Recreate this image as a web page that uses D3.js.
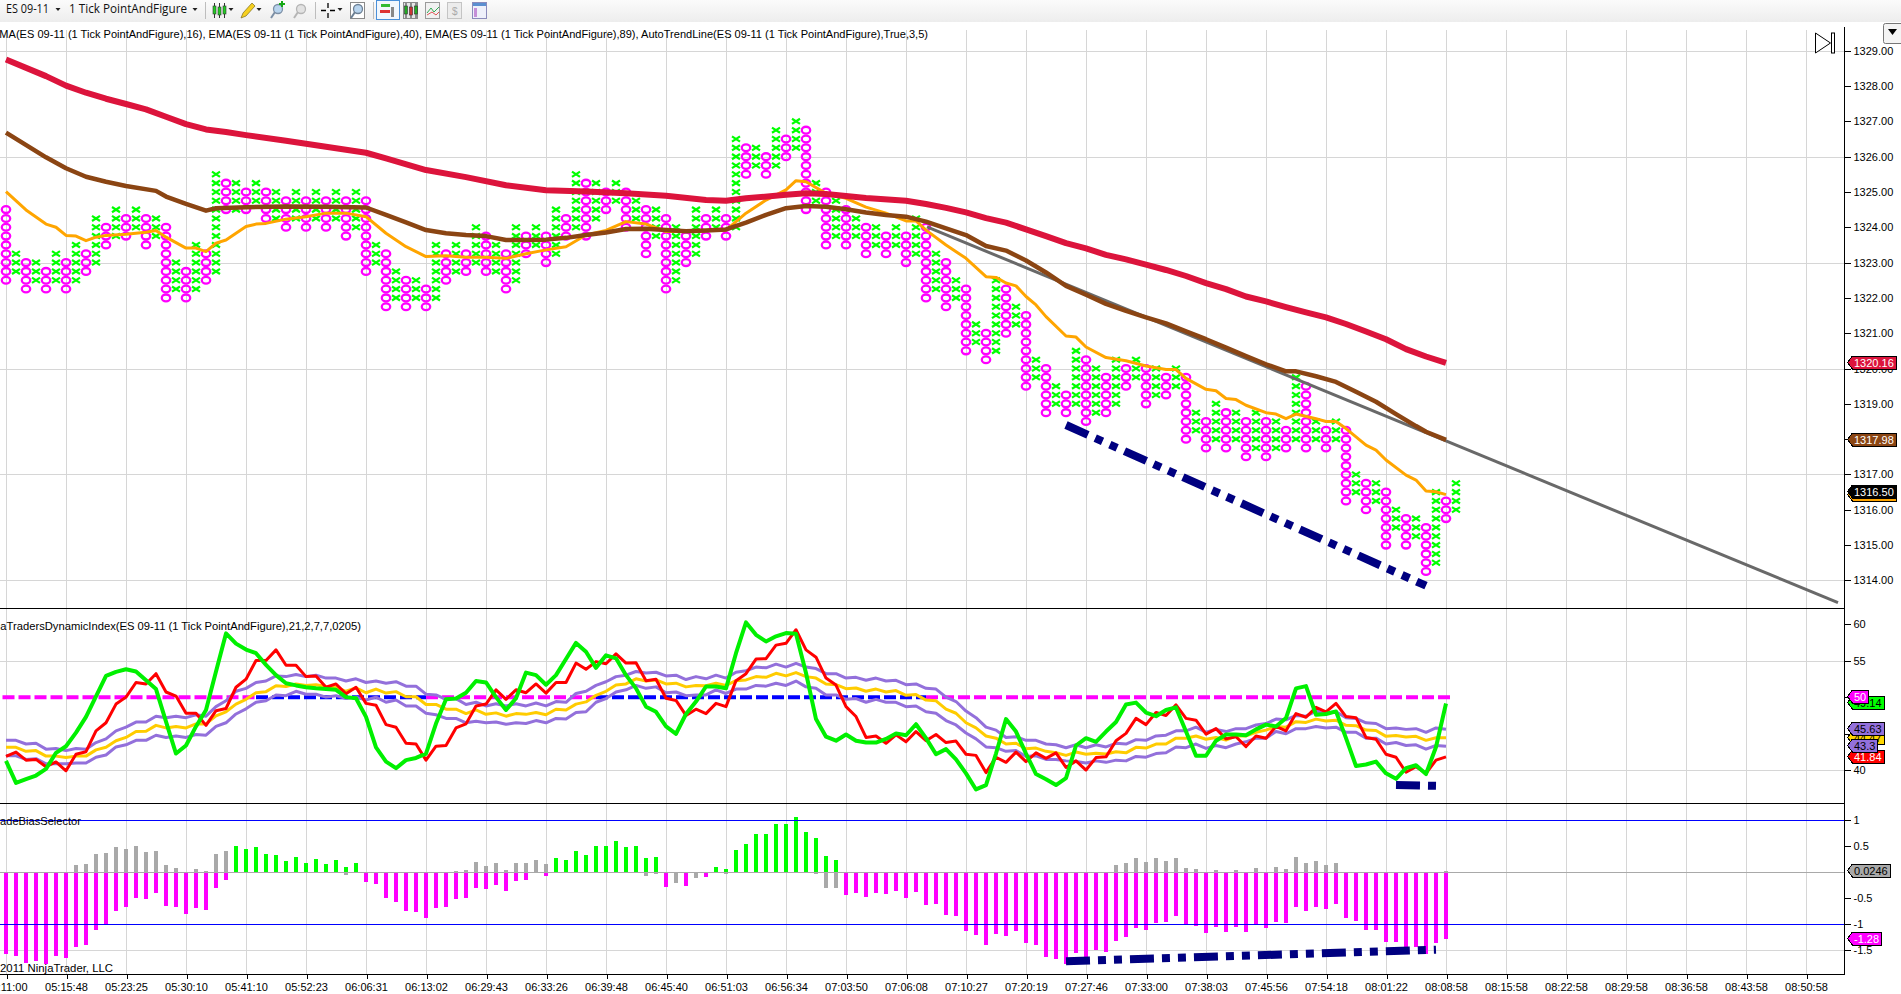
<!DOCTYPE html>
<html>
<head>
<meta charset="utf-8">
<title>ES 09-11 1 Tick PointAndFigure</title>
<script src="https://cdn.jsdelivr.net/npm/d3@7"></script>
<style>
    html, body { margin: 0; padding: 0; background: #fff; overflow: hidden; }
    svg { display: block; }
    text { font-family: "Liberation Sans", Arial, sans-serif; fill: #000; }
    .axis path { display: none; }
    .axis line { stroke: #000; shape-rendering: crispEdges; }
    .axis text { font-size: 11px; }
</style>
</head>
<body>
<div id="chart"></div>
<script>
'use strict';

// Time labels, one every 6 bars
var timeLabels = ["05:11:00", "05:15:48", "05:23:25", "05:30:10", "05:41:10", "05:52:23", "06:06:31", "06:13:02",
    "06:29:43", "06:33:26", "06:39:48", "06:45:40", "06:51:03", "06:56:34", "07:03:50", "07:06:08", "07:10:27",
    "07:20:19", "07:27:46", "07:33:00", "07:38:03", "07:45:56", "07:54:18", "08:01:22", "08:08:58", "08:15:58",
    "08:22:58", "08:29:58", "08:36:58", "08:43:58", "08:50:58"];
var barsPerLabel = 6;
var boxSize = 0.25;

var priceTicks = [1329, 1328, 1327, 1326, 1325, 1324, 1323, 1322, 1321, 1320, 1319, 1318, 1317, 1316, 1315, 1314];
var priceGrid = [1329, 1326, 1323, 1320, 1317, 1314];
var indexTicks = [60, 55, 50, 45, 40];
var indexGrid = [55, 40];
var biasTicks = [1, 0.5, -0.5, -1, -1.5];
var biasGrid = [-1.5];
var biasLimits = [1, -1];
var biasZero = 0.0246;

// Point and figure columns. Even columns are O, odd columns are X.
var pfTop = [1324.5, 1323.25, 1323, 1323, 1322.75, 1323.25, 1323, 1323.5, 1323.25, 1324.25,
    1324, 1324.5, 1324.25, 1324.5, 1324.25, 1324.25, 1324, 1323, 1322.75, 1323.5,
    1323.25, 1325.5, 1325.25, 1325.25, 1325, 1325.25, 1325, 1325, 1324.75, 1325,
    1324.75, 1325, 1324.75, 1325, 1324.75, 1325, 1324.75, 1323.5, 1323.25, 1322.75,
    1322.5, 1322.5, 1322.25, 1323.5, 1323.25, 1323.5, 1323.25, 1324, 1323.75, 1323.5,
    1323.25, 1324, 1323.75, 1324, 1323.75, 1324.5, 1324.25, 1325.5, 1325.25, 1325.25,
    1325, 1325.25, 1325, 1324.75, 1324.5, 1324.5, 1324.25, 1324, 1323.75, 1324.5,
    1324.25, 1324.5, 1324.25, 1326.5, 1326.25, 1326.25, 1326, 1326.75, 1326.5, 1327,
    1326.75, 1325.25, 1325, 1324.75, 1324.5, 1324.25, 1324, 1324, 1323.75, 1324,
    1323.75, 1324.25, 1324, 1323.25, 1323, 1322.5, 1322.25, 1321.25, 1321, 1322.5,
    1322.25, 1321.75, 1321.5, 1320.25, 1320, 1319.5, 1319.25, 1320.5, 1320.25, 1320,
    1319.75, 1320.25, 1320, 1320.25, 1320, 1320, 1319.75, 1320, 1319.75, 1318.75,
    1318.5, 1319, 1318.75, 1318.75, 1318.5, 1318.75, 1318.5, 1318.5, 1318.25, 1319.75,
    1319.5, 1318.5, 1318.25, 1318.5, 1318.25, 1317, 1316.75, 1316.75, 1316.5, 1316,
    1315.75, 1315.75, 1315.5, 1316.5, 1316.25, 1316.75];
var pfBottom = [1322.5, 1322.75, 1322.25, 1322.5, 1322.25, 1322.5, 1322.25, 1322.5, 1322.75, 1323,
    1323.5, 1323.75, 1323.75, 1324, 1323.5, 1323.75, 1322, 1322.25, 1322, 1322.25,
    1322.5, 1322.75, 1324.5, 1324.5, 1324.5, 1324.75, 1324.25, 1324.25, 1324, 1324.25,
    1324, 1324.25, 1324, 1324.25, 1323.75, 1324, 1322.75, 1323, 1321.75, 1322,
    1321.75, 1322, 1321.75, 1322, 1322.5, 1322.75, 1322.75, 1323, 1322.75, 1322.75,
    1322.25, 1322.5, 1323.25, 1323.5, 1323, 1323.25, 1323.75, 1324, 1323.75, 1324.25,
    1324.5, 1324.75, 1324, 1324.25, 1323.25, 1323.75, 1322.25, 1322.5, 1323, 1323.25,
    1323.75, 1324, 1323.75, 1324, 1325.5, 1325.75, 1325.5, 1325.75, 1326, 1326.25,
    1324.5, 1324.75, 1323.5, 1323.75, 1323.5, 1323.75, 1323.25, 1323.5, 1323.25, 1323.5,
    1323, 1323.25, 1322, 1322.25, 1321.75, 1322, 1320.5, 1320.75, 1320.25, 1320.5,
    1321, 1321.25, 1319.5, 1319.75, 1318.75, 1319, 1318.75, 1319, 1318.5, 1318.75,
    1318.75, 1319, 1319.5, 1319.75, 1319, 1319.25, 1319.25, 1319.5, 1318, 1318.25,
    1317.75, 1318, 1317.75, 1318, 1317.5, 1317.75, 1317.5, 1317.75, 1317.75, 1318,
    1317.75, 1318, 1317.75, 1318, 1316.25, 1316.5, 1316, 1316.25, 1315, 1315.5,
    1315, 1315.25, 1314.25, 1314.5, 1315.75, 1316];

// EMA 89
var ema89Bars = [0, 4, 6, 8, 10, 12, 14, 16, 18, 20, 22, 24, 28, 32, 36, 38, 42, 46, 50, 54, 58, 62, 66, 70, 72, 74, 78, 80,
    82, 86, 90, 92, 94, 96, 98, 100, 102, 104, 106, 108, 110, 112, 114, 116, 118, 120, 122, 124, 126, 128, 130, 132,
    134, 136, 138, 140, 142, 144];
var ema89Values = [1328.75, 1328.28, 1328.01, 1327.81, 1327.64, 1327.49, 1327.34, 1327.13, 1326.92, 1326.77, 1326.70,
    1326.61, 1326.45, 1326.28, 1326.11, 1325.95, 1325.62, 1325.42, 1325.19, 1325.05, 1325.01, 1324.96, 1324.89, 1324.77,
    1324.75, 1324.82, 1324.92, 1324.96, 1324.94, 1324.83, 1324.75, 1324.66, 1324.55, 1324.42, 1324.26, 1324.13, 1323.94,
    1323.75, 1323.55, 1323.40, 1323.22, 1323.09, 1322.94, 1322.79, 1322.62, 1322.42, 1322.25, 1322.04, 1321.90, 1321.74,
    1321.59, 1321.45, 1321.26, 1321.05, 1320.83, 1320.55, 1320.34, 1320.16];

// EMA 40
var ema40Bars = [0, 4, 6, 8, 10, 12, 15, 16, 18, 20, 21, 24, 28, 32, 36, 38, 40, 42, 44, 46, 48, 50, 52, 54, 56, 58, 60, 62,
    64, 66, 68, 70, 72, 74, 76, 78, 80, 82, 84, 86, 88, 90, 92, 94, 96, 98, 100, 102, 104, 106, 108, 110, 112, 114, 116,
    118, 120, 122, 124, 126, 128, 129, 131, 133, 135, 137, 139, 141, 142, 144];
var ema40Values = [1326.68, 1325.98, 1325.67, 1325.43, 1325.29, 1325.17, 1325.03, 1324.87, 1324.66, 1324.47, 1324.54,
    1324.57, 1324.59, 1324.58, 1324.56, 1324.35, 1324.14, 1323.92, 1323.83, 1323.78, 1323.75, 1323.64, 1323.64, 1323.65,
    1323.70, 1323.78, 1323.85, 1323.95, 1323.96, 1323.92, 1323.89, 1323.91, 1323.94, 1324.13, 1324.35, 1324.54, 1324.60,
    1324.58, 1324.51, 1324.42, 1324.35, 1324.30, 1324.16, 1323.97, 1323.78, 1323.47, 1323.34, 1323.06, 1322.72, 1322.34,
    1322.09, 1321.83, 1321.63, 1321.45, 1321.28, 1321.05, 1320.83, 1320.59, 1320.35, 1320.12, 1319.92, 1319.92, 1319.78,
    1319.62, 1319.34, 1319.06, 1318.71, 1318.37, 1318.21, 1317.98];

// EMA 16
var ema16Bars = [0, 2, 4, 5, 6, 7, 8, 9, 10, 12, 14, 15, 16, 18, 19, 20, 21, 22, 24, 25, 26, 28, 30, 32, 34, 36, 38, 40, 42,
    44, 46, 48, 50, 52, 54, 56, 58, 60, 62, 64, 66, 68, 70, 72, 74, 76, 78, 79, 80, 82, 84, 86, 88, 90, 91, 92, 94, 96,
    98, 99, 100, 101, 102, 103, 104, 106, 107, 108, 110, 112, 114, 116, 117, 118, 120, 121, 122, 123, 124, 126, 127,
    128, 129, 131, 132, 133, 134, 136, 137, 138, 140, 141, 142, 143, 144];
var ema16Values = [1325.01, 1324.49, 1324.09, 1324.0, 1323.77, 1323.75, 1323.62, 1323.72, 1323.77, 1323.80, 1323.86,
    1323.91, 1323.72, 1323.41, 1323.41, 1323.31, 1323.55, 1323.64, 1324.02, 1324.09, 1324.11, 1324.23, 1324.30, 1324.40,
    1324.40, 1324.30, 1323.83, 1323.45, 1323.17, 1323.19, 1323.15, 1323.15, 1323.12, 1323.25, 1323.36, 1323.45, 1323.78,
    1323.91, 1324.16, 1324.09, 1323.88, 1323.88, 1323.91, 1323.92, 1324.40, 1324.77, 1325.06, 1325.32, 1325.29, 1324.96,
    1324.82, 1324.57, 1324.40, 1324.18, 1324.18, 1323.92, 1323.50, 1323.12, 1322.60, 1322.58, 1322.42, 1322.34, 1322.04,
    1321.80, 1321.47, 1320.92, 1320.89, 1320.61, 1320.31, 1320.22, 1320.07, 1319.97, 1319.97, 1319.72, 1319.41, 1319.37,
    1319.15, 1319.12, 1318.96, 1318.75, 1318.71, 1318.58, 1318.71, 1318.58, 1318.5, 1318.5, 1318.30, 1317.83, 1317.69,
    1317.41, 1316.98, 1316.84, 1316.53, 1316.51, 1316.43];

// Auto trend line and the hand drawn divergence lines
var trendBars = [92.1, 183.2];
var trendValues = [1324.01, 1313.37];
var divergenceBars = [106, 142];
var divergenceValues = [1318.4, 1313.85];
var indexDivergenceBars = [139, 143];
var indexDivergenceValues = [38.0, 37.9];
var biasDivergenceBars = [106, 143];
var biasDivergenceValues = [-1.71, -1.49];

// Dynamic index, one value per bar
var rsiPrice = [41.9, 42.5, 41.4, 41.5, 40.5, 41.15, 39.95, 42.2, 42.55, 45.4, 46.5, 49.05, 50, 52, 51.8, 53.2, 50.7, 50.15,
    47.8, 47.8, 46.15, 48.15, 48.45, 51.35, 52.45, 55, 55, 56.45, 54.35, 54.35, 52.8, 52.9, 51.35, 51.8, 50.45, 51.35,
    49.15, 48.9, 46.25, 45.9, 43.7, 43.6, 41.4, 43.3, 43.4, 45.8, 46.35, 48.8, 49.05, 51,
    49.7, 51, 50.6, 51.8, 50.55, 52, 52, 54.65, 53.8, 54.85, 54.55, 55.9, 54.65, 54.7, 52.25, 52.45, 49.85, 49.55, 47.5,
    48.35, 47.75, 49.15, 48.7, 52.25, 53.2, 55.2, 55.25, 57.1, 57.35, 59.2, 56.45, 55.45, 52.6, 51.65, 48.7, 47.35, 44.5,
    44.7, 43.7, 44.85, 43.9, 45.3, 44.05, 44.9, 43.8, 44, 42.2, 42.05, 39.7,
    41.8, 41.1, 42.5, 41.2, 42.4, 41.65, 42.4, 40.4, 41.3, 40.05, 41.75, 41.85, 44.05, 45.05, 47.1, 46.25, 47.9, 47.5,
    48.95, 47.1, 46.85, 44.95, 45.7, 44.3, 44.6, 43.25, 44.7, 44.4, 46, 45.4, 47.75, 47.25, 48.6, 48, 49.15, 47.35, 47.2,
    44.5, 44.25, 42.2, 41.8, 39.75, 40.5, 39.6, 41.4, 41.84];
var rsiFast = [41.3, 38.3, 38.8, 39.3, 40.2, 42.4, 43.3, 45.15, 47.3, 50.1, 52.9, 53.45, 53.8, 53.5, 52.3, 51.1, 46.65, 42.3,
    43.4, 46, 48.25, 53.5, 58.7, 57.3, 56.5, 56, 54.4, 53, 51.9, 51.6, 51.35, 51.2, 51.1, 51, 50, 49.85, 47.3, 43.15, 41.2,
    40.3, 41.4, 41.7, 42.3, 46.4, 49.7, 49.8, 50.6, 52.2, 52, 50,
    48.25, 49.85, 53.35, 53, 51.7, 53, 55.2, 57.4, 56.2, 54, 55.7, 55.3, 53, 51.2, 48.7, 48, 46, 45, 47.7, 49.4, 51.45,
    51.45, 51.2, 56, 60.2, 58.5, 57.6, 58.3, 58.75, 58.65, 53.3, 47, 44.6, 44.05, 44.9, 44.05, 43.8, 43.8, 44.3, 45.05,
    44.8, 46.3, 44.4, 42.2, 42.9, 41.5, 39.6, 37.4, 38,
    42.3, 47, 45.3, 42.3, 39.5, 38.8, 38, 38.95, 43.4, 44.4, 43.9, 45.3, 46.6, 49, 49.25, 47.9, 47.4, 48.25, 48.6, 45.3,
    42, 42, 44.05, 44.9, 44.9, 44.8, 45.6, 46.25, 46, 47.15, 51.2, 51.5, 47.6, 47.7, 48.05, 44.4, 40.6, 40.8, 41.2, 39.6,
    38.85, 40.3, 40.7, 39.5, 43.2, 49.14];
var rsiMid = [43.15, 43.15, 42.6, 42.7, 41.95, 41.95, 41.75, 41.95, 41.95, 42.8, 43.15, 44.05, 44.5, 45.3, 45.35, 46.15, 45.8,
    46, 45.8, 46.35, 46.35, 47.45, 48, 49.05, 49.7, 50.6, 50.75, 51.55, 51.45, 51.8, 51.6, 51.7, 51.45, 51.35, 50.8, 51.25,
    50.6, 51.1, 50.55, 50.75, 50.05, 50.05, 49, 49, 48.35, 48.35, 47.75, 48.25, 47.65, 47.85,
    47.4, 47.75, 47.65, 47.9, 47.6, 48.35, 48.25, 49.05, 49.35, 50.25, 50.8, 51.65, 51.8, 52.5, 52.2, 52.35, 51.8, 51.9,
    51.4, 51.6, 51.55, 51.9, 51.6, 52.25, 52.35, 52.8, 52.7, 53.25, 52.9, 53.35, 52.8, 52.6, 51.8, 51.7, 51.15, 51.25, 50.8,
    51.1, 50.7, 50.9, 50.25, 50.35, 49.6, 49.5, 48.35, 47.8, 46.5, 45.8, 44.7,
    44.4, 43.6, 43.7, 42.95, 43.05, 42.6, 42.4, 42.05, 42.5, 42.2, 42.35, 42.25, 42.55, 42.4, 43.15, 43.05, 43.6, 43.6,
    44.4, 44.4, 44.7, 44.25, 44.5, 44.15, 44.7, 44.7, 45.2, 45.5, 46, 45.9, 46.65, 46.55, 47, 46.75, 46.85, 46.15, 46.1,
    45.5, 45.45, 44.65, 44.75, 44.55, 44.65, 44.1, 44.45, 44.47];
var rsiUpper = [44.1, 44.1, 43.6, 43.7, 42.9, 43.0, 42.7, 43.0, 42.9, 43.8, 44.3, 45.4, 45.9, 46.6, 46.6, 47.4, 47.2, 47.4, 47.2,
    47.6, 47.4, 48.7, 49.5, 50.8, 51.2, 52.0, 52.2, 52.9, 52.8, 53.1, 52.8, 53.0, 52.6, 52.6, 52.2, 52.5, 52.0, 52.2, 51.9,
    52.1, 51.5, 51.5, 50.4, 50.3, 49.7, 49.8, 49.0, 49.3, 48.8, 49.1,
    48.8, 49.1, 48.8, 49.2, 48.8, 49.4, 49.3, 50.5, 50.8, 51.6, 52.1, 52.8, 53.0, 53.5, 53.3, 53.4, 52.9, 53.0, 52.4, 52.8,
    52.5, 53.0, 52.6, 53.4, 53.6, 54.1, 54.0, 54.5, 54.1, 54.6, 54.1, 53.9, 53.2, 53.2, 52.6, 52.7, 52.3, 52.6, 52.2, 52.3,
    51.7, 51.8, 51.2, 51.1, 50.0, 49.4, 48.1, 47.2, 45.9,
    45.5, 44.5, 44.6, 44.1, 44.1, 43.6, 43.5, 43.1, 43.5, 43.1, 43.5, 43.2, 43.7, 43.6, 44.2, 44.1, 44.7, 44.8, 45.4, 45.4,
    45.9, 45.2, 45.6, 45.3, 45.7, 45.7, 46.2, 46.4, 47.0, 46.9, 47.5, 47.4, 48.1, 47.8, 48.0, 47.2, 47.1, 46.5, 46.4, 45.7,
    45.8, 45.6, 45.7, 45.2, 45.8, 45.63];
var rsiLower = [42.0, 42.0, 41.5, 41.6, 40.9, 40.9, 40.9, 41.0, 41.0, 41.8, 42.1, 43.2, 43.5, 44.1, 44.1, 44.8, 44.5, 44.7, 44.5,
    44.9, 44.8, 46.0, 46.5, 47.7, 48.4, 49.3, 49.5, 50.3, 50.2, 50.8, 50.4, 50.4, 50.0, 50.2, 49.8, 50.0, 49.6, 50.0, 49.3,
    49.6, 48.8, 48.8, 47.8, 47.6, 47.1, 47.1, 46.5, 46.7, 46.5, 46.6,
    46.3, 46.5, 46.4, 46.8, 46.5, 47.1, 47.0, 47.9, 48.0, 49.3, 49.8, 50.7, 51.0, 51.6, 51.2, 51.4, 50.6, 50.7, 50.2, 50.3,
    50.3, 51.0, 50.5, 51.1, 51.1, 51.6, 51.5, 51.9, 51.6, 52.2, 51.4, 51.2, 50.3, 50.3, 49.7, 49.8, 49.3, 49.7, 49.3, 49.3,
    48.7, 48.8, 48.0, 47.8, 46.8, 46.2, 45.1, 44.3, 43.2,
    43.1, 42.6, 42.7, 41.9, 42.0, 41.5, 41.5, 41.3, 41.2, 41.0, 41.3, 41.1, 41.4, 41.3, 41.9, 41.8, 42.3, 42.4, 43.2, 43.1,
    43.6, 43.0, 43.4, 43.1, 43.6, 43.9, 44.4, 44.4, 45.3, 45.0, 45.7, 45.7, 46.0, 45.8, 45.9, 45.2, 45.2, 44.4, 44.4, 43.6,
    43.8, 43.4, 43.5, 42.9, 43.4, 43.3];
var signalLevel = 50;

// Trade bias histogram, one value per bar
var biasDown = [-1.58, -1.61, -1.74, -1.70, -1.76, -1.61, -1.65, -1.43, -1.40, -1.11,
    -1.0, -0.74, -0.67, -0.49, -0.51, -0.40, -0.65, -0.67, -0.80, -0.69,
    -0.72, -0.30, -0.15, 0, 0, 0, 0, 0, 0, 0,
    0, 0, 0, 0, 0, 0, -0.19, -0.22, -0.49, -0.57,
    -0.74, -0.76, -0.88, -0.69, -0.67, -0.51, -0.49, -0.30, -0.32, -0.24,
    -0.36, -0.17, -0.15, -0.01, -0.07, 0, 0, 0, 0, 0,
    0, 0, 0, 0, 0, 0, -0.28, 0, -0.26, 0,
    -0.09, 0, 0, 0, 0, 0, 0, 0, 0, 0,
    0, 0, 0, 0, -0.44, -0.40, -0.47, -0.40, -0.42, -0.36,
    -0.49, -0.38, -0.63, -0.61, -0.82, -0.84, -1.13, -1.21, -1.40, -1.19,
    -1.22, -1.13, -1.36, -1.40, -1.63, -1.67, -1.76, -1.55, -1.65, -1.49,
    -1.53, -1.32, -1.24, -1.07, -1.11, -0.97, -0.96, -0.84, -1.01, -1.03,
    -1.17, -1.05, -1.15, -1.05, -1.15, -1.01, -1.07, -0.96, -0.97, -0.67,
    -0.74, -0.67, -0.71, -0.61, -0.88, -0.94, -1.11, -1.11, -1.34, -1.34,
    -1.49, -1.44, -1.57, -1.36, -1.28];
var biasGreenBars = [23, 24, 25, 26, 27, 28, 29, 30, 31, 32, 33, 34, 35, 55, 56, 57, 58, 59, 60, 61, 62, 63, 64, 65,
    71, 72, 73, 74, 75, 76, 77, 78, 79, 80, 81, 82, 83];
var biasGreen = [0.51, 0.45, 0.49, 0.35, 0.33, 0.22, 0.29, 0.18, 0.26, 0.16, 0.24, 0.10, 0.18,
    0.28, 0.24, 0.41, 0.33, 0.51, 0.51, 0.60, 0.49, 0.51, 0.28, 0.29,
    0.10, 0.06, 0.43, 0.54, 0.74, 0.74, 0.93, 0.93, 1.06, 0.78, 0.66, 0.31, 0.24];
var biasGrayBars = [7, 8, 9, 10, 11, 12, 13, 14, 15, 16, 17, 19, 20, 21, 22, 45, 46, 47, 48, 49, 50, 51, 52, 53, 54,
    111, 112, 113, 114, 115, 116, 117, 118, 119, 121, 123, 125, 127, 128, 129, 130, 131, 132, 133, 144];
var biasGray = [0.14, 0.16, 0.35, 0.37, 0.49, 0.45, 0.51, 0.39, 0.41, 0.14, 0.08, 0.06, 0.03, 0.35, 0.41,
    0.03, 0.04, 0.20, 0.12, 0.18, 0.04, 0.18, 0.18, 0.24, 0.16,
    0.14, 0.18, 0.28, 0.20, 0.28, 0.22, 0.28, 0.08, 0.06, 0.04, 0.04, 0.08, 0.10, 0.06, 0.29, 0.18, 0.22, 0.14, 0.18, 0.02];
var biasGrayDownBars = [34, 64, 65, 67, 69, 72, 81, 82, 83];
var biasGrayDown = [-0.05, -0.07, -0.03, -0.21, -0.11, -0.03, -0.03, -0.30, -0.30];

// Price markers on the right axes
var priceFlagValues = [1316.43, 1320.16, 1317.98, 1316.50];
var priceFlagTexts = ["1316.43", "1320.16", "1317.98", "1316.50"];
var priceFlagColors = ["#ffa500", "#dc143c", "#8b4513", "#000000"];
var priceFlagInk = ["#fff", "#fff", "#fff", "#fff"];
var indexFlagValues = [49.14, 50, 41.84, 44.47, 45.63, 43.3];
var indexFlagTexts = ["49.14", "50", "41.84", "44.47", "45.63", "43.3"];
var indexFlagColors = ["#00ff00", "#ff00ff", "#ff0000", "#ffd700", "#9370db", "#9370db"];
var indexFlagInk = ["#000", "#fff", "#fff", "#000", "#000", "#000"];
var biasFlagValues = [0.0246, -1.28];
var biasFlagTexts = ["0.0246", "-1.28"];
var biasFlagColors = ["#a9a9a9", "#ff00ff"];
var biasFlagInk = ["#000", "#fff"];

var WIDTH = 1901;
var HEIGHT = 994;
var axisX = 1844.5;
var bottomY = 974.5;

var svg = d3.select("#chart").append("svg")
    .attr("width", WIDTH)
    .attr("height", HEIGHT)
    .style("background", "#fff");

var defs = svg.append("defs");
var toolbarGradient = defs.append("linearGradient")
    .attr("id", "toolbarGradient")
    .attr("x1", "0%").attr("y1", "0%").attr("x2", "0%").attr("y2", "100%");
toolbarGradient.append("stop").attr("offset", "0%").attr("stop-color", "#fbfbfb");
toolbarGradient.append("stop").attr("offset", "100%").attr("stop-color", "#ededed");
defs.append("clipPath").attr("id", "plotClip")
    .append("rect").attr("x", 0).attr("y", 27).attr("width", axisX).attr("height", 948);

// Scales. All panes share the bar scale.
var x = d3.scaleLinear().domain([0, 180]).range([6, 1806]);
var yPrice = d3.scaleLinear().domain([1329, 1314]).range([50.7, 580.4]);
var yIndex = d3.scaleLinear().domain([55, 40]).range([660.5, 770.4]);
var yBias = d3.scaleLinear().domain([1, -1]).range([820.3, 924.3]);

// Grid
var grid = svg.append("g").attr("shape-rendering", "crispEdges");
var gridBars = timeLabels.map(function (d, i) { return i * barsPerLabel; });

grid.selectAll("line.v").data(gridBars).enter().append("line")
    .attr("class", "v")
    .attr("x1", function (d) { return x(d) + 0.5; })
    .attr("x2", function (d) { return x(d) + 0.5; })
    .attr("y1", 30)
    .attr("y2", bottomY)
    .attr("stroke", "#d6d6d6");

function hGrid(values, scale) {
    grid.selectAll(null).data(values).enter().append("line")
        .attr("x1", 0)
        .attr("x2", axisX)
        .attr("y1", function (d) { return Math.round(scale(d)) + 0.5; })
        .attr("y2", function (d) { return Math.round(scale(d)) + 0.5; })
        .attr("stroke", "#d6d6d6");
}
hGrid(priceGrid, yPrice);
hGrid(indexGrid, yIndex);
hGrid(biasGrid, yBias);

var plot = svg.append("g").attr("clip-path", "url(#plotClip)");

// Point and figure columns
var pfBoxes = [];
pfTop.forEach(function (top, bar) {
    var count = Math.round((top - pfBottom[bar]) / boxSize);
    d3.range(count + 1).forEach(function (k) {
        pfBoxes.push({ bar: bar, price: top - k * boxSize, up: bar % 2 === 1 });
    });
});

plot.selectAll("ellipse.o").data(pfBoxes.filter(function (d) { return !d.up; })).enter().append("ellipse")
    .attr("class", "o")
    .attr("cx", function (d) { return x(d.bar); })
    .attr("cy", function (d) { return yPrice(d.price); })
    .attr("rx", 4.2)
    .attr("ry", 3.4)
    .attr("fill", "none")
    .attr("stroke", "#ff00ff")
    .attr("stroke-width", 2.3);

plot.selectAll("path.x").data(pfBoxes.filter(function (d) { return d.up; })).enter().append("path")
    .attr("class", "x")
    .attr("transform", function (d) { return "translate(" + x(d.bar) + "," + yPrice(d.price) + ")"; })
    .attr("d", "M-4,-2.6L4,2.6M-4,2.6L4,-2.6")
    .attr("fill", "none")
    .attr("stroke", "#00ff00")
    .attr("stroke-width", 2.2);

function pairs(bars, values) {
    return bars.map(function (b, i) { return [b, values[i]]; });
}

function drawLine(parent, bars, values, scale, color, width, dash) {
    var line = d3.line()
        .x(function (d) { return x(d[0]); })
        .y(function (d) { return scale(d[1]); });
    return parent.append("path")
        .datum(pairs(bars, values))
        .attr("d", line)
        .attr("fill", "none")
        .attr("stroke", color)
        .attr("stroke-width", width)
        .attr("stroke-linejoin", "round")
        .attr("stroke-dasharray", dash || null);
}

// Main pane lines
var allBars = d3.range(rsiFast.length);
var navyDash = "24 8 8 8 8 8";
drawLine(plot, trendBars, trendValues, yPrice, "#696969", 3);
drawLine(plot, ema16Bars, ema16Values, yPrice, "#ffa500", 3);
drawLine(plot, ema40Bars, ema40Values, yPrice, "#8b4513", 4.5);
drawLine(plot, ema89Bars, ema89Values, yPrice, "#dc143c", 6);
drawLine(plot, divergenceBars, divergenceValues, yPrice, "#000080", 8, navyDash);

// Signal line on the 50 level: blue while the middle band is above it, magenta otherwise
var signalBars = [-0.35].concat(allBars, [144.7]);
function signalPath(color, test) {
    var line = d3.line()
        .defined(function (d) {
            var a = Math.max(0, Math.min(rsiMid.length - 1, Math.floor(d)));
            var b = Math.max(0, Math.min(rsiMid.length - 1, Math.ceil(d) - 1));
            return test(rsiMid[a]) || test(rsiMid[b]);
        })
        .x(function (d) { return x(d); })
        .y(yIndex(signalLevel));
    plot.append("path")
        .attr("d", line(signalBars))
        .attr("fill", "none")
        .attr("stroke", color)
        .attr("stroke-width", 4)
        .attr("stroke-dasharray", "12 4");
}
signalPath("#ff00ff", function (v) { return v < signalLevel; });
signalPath("#0000ff", function (v) { return v >= signalLevel; });

// Dynamic index lines
drawLine(plot, allBars, rsiMid, yIndex, "#ffcc00", 3);
drawLine(plot, allBars, rsiUpper, yIndex, "#9370db", 3);
drawLine(plot, allBars, rsiLower, yIndex, "#9370db", 3);
drawLine(plot, allBars, rsiPrice, yIndex, "#ff0000", 3);
drawLine(plot, allBars, rsiFast, yIndex, "#00f000", 4);
drawLine(plot, indexDivergenceBars, indexDivergenceValues, yIndex, "#000080", 8, navyDash);

// Trade bias histogram
function biasBars(bars, values, color) {
    plot.append("g").attr("shape-rendering", "crispEdges")
        .selectAll("rect").data(bars).enter().append("rect")
        .attr("x", function (d) { return x(d) - 2; })
        .attr("width", 4)
        .attr("y", function (d, i) { return Math.min(yBias(0), yBias(values[i])); })
        .attr("height", function (d, i) { return Math.abs(yBias(values[i]) - yBias(0)); })
        .attr("fill", color);
}
biasBars(biasGrayBars, biasGray, "#a9a9a9");
biasBars(biasGrayDownBars, biasGrayDown, "#a9a9a9");
biasBars(biasGreenBars, biasGreen, "#00ff00");
biasBars(allBars, biasDown, "#ff00ff");

plot.append("line")
    .attr("x1", 0).attr("x2", axisX)
    .attr("y1", yBias(0)).attr("y2", yBias(0))
    .attr("stroke", "#a9a9a9")
    .attr("stroke-width", 1)
    .attr("shape-rendering", "crispEdges");

plot.selectAll("line.limit").data(biasLimits).enter().append("line")
    .attr("class", "limit")
    .attr("x1", 0).attr("x2", axisX)
    .attr("y1", function (d) { return yBias(d); })
    .attr("y2", function (d) { return yBias(d); })
    .attr("stroke", "#0000ff")
    .attr("shape-rendering", "crispEdges");

drawLine(plot, biasDivergenceBars, biasDivergenceValues, yBias, "#000080", 8, navyDash);

// Pane separators and frame
var frame = svg.append("g").attr("shape-rendering", "crispEdges").attr("stroke", "#000");
frame.append("line").attr("x1", 0).attr("x2", axisX).attr("y1", 608.5).attr("y2", 608.5);
frame.append("line").attr("x1", 0).attr("x2", axisX).attr("y1", 803.5).attr("y2", 803.5);
frame.append("line").attr("x1", 0).attr("x2", axisX).attr("y1", bottomY).attr("y2", bottomY);
frame.append("line").attr("x1", axisX).attr("x2", axisX).attr("y1", 27).attr("y2", bottomY);

// Axes
svg.append("g").attr("class", "axis")
    .attr("transform", "translate(" + axisX + ",0)")
    .call(d3.axisRight(yPrice).tickValues(priceTicks).tickSize(6).tickPadding(3)
        .tickFormat(function (d) { return d.toFixed(2); }));
svg.append("g").attr("class", "axis")
    .attr("transform", "translate(" + axisX + ",0)")
    .call(d3.axisRight(yIndex).tickValues(indexTicks).tickSize(6).tickPadding(3));
svg.append("g").attr("class", "axis")
    .attr("transform", "translate(" + axisX + ",0)")
    .call(d3.axisRight(yBias).tickValues(biasTicks).tickSize(6).tickPadding(3)
        .tickFormat(function (d) { return d; }));
svg.append("g").attr("class", "axis")
    .attr("transform", "translate(0," + bottomY + ")")
    .call(d3.axisBottom(x).tickValues(gridBars).tickSize(4).tickPadding(5)
        .tickFormat(function (d, i) { return timeLabels[i]; }))
    .selectAll("line").attr("stroke", "#888").attr("transform", "translate(0.5,0)");

// Flags on the right axes
function flags(values, texts, colors, ink, scale) {
    values.forEach(function (value, i) {
        var cy = Math.round(scale(value)) - 0.5;
        var g = svg.append("g");
        var outline = g.append("path")
            .attr("fill", colors[i])
            .attr("stroke", "#000")
            .attr("shape-rendering", "crispEdges");
        var label = g.append("text")
            .attr("x", 1854)
            .attr("y", cy + 4)
            .attr("font-size", 11)
            .style("fill", ink[i])
            .text(texts[i]);
        var right = 1854 + Math.round(label.node().getComputedTextLength()) + 2;
        outline.attr("d", "M1847.5," + cy + "L1852.5," + (cy - 6.5) + "H" + right + "V" + (cy + 6.5) + "H1852.5Z");
    });
}
flags(priceFlagValues, priceFlagTexts, priceFlagColors, priceFlagInk, yPrice);
flags(indexFlagValues, indexFlagTexts, indexFlagColors, indexFlagInk, yIndex);
flags(biasFlagValues, biasFlagTexts, biasFlagColors, biasFlagInk, yBias);

// Pane captions. The left ends run under the window edge.
svg.append("text").attr("x", -8).attr("y", 38).attr("font-size", 10.5)
    .attr("textLength", 936).attr("lengthAdjust", "spacingAndGlyphs")
    .text("EMA(ES 09-11 (1 Tick PointAndFigure),16), EMA(ES 09-11 (1 Tick PointAndFigure),40), EMA(ES 09-11 (1 Tick PointAndFigure),89), AutoTrendLine(ES 09-11 (1 Tick PointAndFigure),True,3,5)");
svg.append("text").attr("x", -19).attr("y", 630).attr("font-size", 10.5)
    .attr("textLength", 380).attr("lengthAdjust", "spacingAndGlyphs")
    .text("NinjaTradersDynamicIndex(ES 09-11 (1 Tick PointAndFigure),21,2,7,7,0205)");
svg.append("text").attr("x", -10).attr("y", 825).attr("font-size", 10.5)
    .attr("textLength", 91).attr("lengthAdjust", "spacingAndGlyphs")
    .text("TradeBiasSelector");
svg.append("text").attr("x", 0).attr("y", 972).attr("font-size", 10.5)
    .attr("textLength", 113).attr("lengthAdjust", "spacingAndGlyphs")
    .text("2011 NinjaTrader, LLC");

// Jump to end button
var jump = svg.append("g").attr("fill", "#fff").attr("stroke", "#000");
jump.append("path").attr("d", "M1815.5,33L1830.5,43L1815.5,53Z");
jump.append("rect").attr("x", 1831.5).attr("y", 33).attr("width", 3).attr("height", 20);

// Drop down in the top right corner
svg.append("rect").attr("x", 1883.5).attr("y", 23.5).attr("width", 20).attr("height", 20).attr("rx", 2)
    .attr("fill", "#f4f4f4").attr("stroke", "#777");
svg.append("path").attr("d", "M1888,29H1897L1892.5,35Z").attr("fill", "#000");

// Toolbar
var bar = svg.append("g");
bar.append("rect").attr("width", WIDTH).attr("height", 22).attr("fill", "url(#toolbarGradient)");

function toolbarText(px, str, len) {
    bar.append("text").attr("x", px).attr("y", 13)
        .attr("textLength", len).attr("lengthAdjust", "spacingAndGlyphs")
        .attr("font-size", 12)
        .style("font-family", "'Open Sans', sans-serif")
        .style("fill", "#111")
        .text(str);
}
function caret(px) {
    bar.append("path").attr("d", "M" + (px - 2.5) + ",8H" + (px + 2.5) + "L" + px + ",11Z").attr("fill", "#222");
}
function separator(px) {
    bar.append("line").attr("x1", px).attr("x2", px).attr("y1", 2).attr("y2", 19)
        .attr("stroke", "#bdbdbd").attr("shape-rendering", "crispEdges");
}
function candles(px, colors) {
    colors.forEach(function (c, i) {
        bar.append("line").attr("x1", px + 2.5 + i * 5).attr("x2", px + 2.5 + i * 5).attr("y1", 3).attr("y2", 18)
            .attr("stroke", "#333");
        bar.append("rect").attr("x", px + 1 + i * 5).attr("y", 6 + (i % 2)).attr("width", 3).attr("height", 8)
            .attr("fill", c).attr("stroke", "#333").attr("stroke-width", 0.6);
    });
}
function magnifier(px, color, rim) {
    bar.append("circle").attr("cx", px + 8).attr("cy", 9).attr("r", 4.5)
        .attr("fill", color).attr("stroke", rim).attr("stroke-width", 1.3);
    bar.append("line").attr("x1", px + 5).attr("y1", 12).attr("x2", px + 1).attr("y2", 18)
        .attr("stroke", rim).attr("stroke-width", 2);
}
function pageIcon(px, fill, rim) {
    bar.append("rect").attr("x", px + 0.5).attr("y", 2.5).attr("width", 14).attr("height", 16)
        .attr("fill", fill).attr("stroke", rim);
}

toolbarText(6, "ES 09-11", 43);
caret(58);
toolbarText(69, "1 Tick PointAndFigure", 118);
caret(195);
separator(205.5);
candles(212, ["#22cc22", "#22cc22", "#22cc22"]);
caret(231);
bar.append("path").attr("d", "M241,18L243,13L252,3L255,6L246,16Z").attr("fill", "#f6d020").attr("stroke", "#7a6a20").attr("stroke-width", 0.7);
caret(259);
magnifier(270, "#b8d4ee", "#7c8fa5");
bar.append("path").attr("d", "M279,4H285M282,1V7").attr("stroke", "#16a816").attr("stroke-width", 2);
magnifier(293, "#e2e2e2", "#b5b5b5");
separator(315.5);
bar.append("path").attr("d", "M321,10.5H326M330,10.5H335M328,3V8M328,13V18").attr("stroke", "#000").attr("stroke-width", 1.3);
caret(340);
pageIcon(350, "#fff", "#8a8a8a");
magnifier(350, "#b8d4ee", "#6d8094");
separator(373.5);
bar.append("rect").attr("x", 376.5).attr("y", 0.5).attr("width", 23).attr("height", 19).attr("fill", "#f2f7fd").attr("stroke", "#4a90d9");
bar.append("rect").attr("x", 381).attr("y", 4).attr("width", 9).attr("height", 3).attr("fill", "#33bb33");
bar.append("rect").attr("x", 380).attr("y", 10).attr("width", 10).attr("height", 3).attr("fill", "#dd3333");
bar.append("rect").attr("x", 391).attr("y", 7).attr("width", 3).attr("height", 10).attr("fill", "#888");
pageIcon(403, "#e6e6e6", "#8a8a8a");
candles(403.5, ["#22aa22", "#cc3333", "#22aa22"]);
pageIcon(425, "#f1f1f1", "#9a9a9a");
bar.append("path").attr("d", "M427,13L431,8L434,12L439,7").attr("fill", "none").attr("stroke", "#33aa55");
bar.append("path").attr("d", "M427,15L432,12L436,15L439,12").attr("fill", "none").attr("stroke", "#dd5555");
pageIcon(447, "#ececec", "#c4c4c4");
bar.append("text").attr("x", 452).attr("y", 15).attr("font-size", 10).style("fill", "#aaa").text("$");
pageIcon(472, "#eef0fa", "#8b8bbb");
bar.append("rect").attr("x", 473).attr("y", 3).attr("width", 13).attr("height", 3).attr("fill", "#5b8fd0");
bar.append("rect").attr("x", 474).attr("y", 8).attr("width", 3).attr("height", 9).attr("fill", "#c58fd8");
</script>
</body>
</html>
